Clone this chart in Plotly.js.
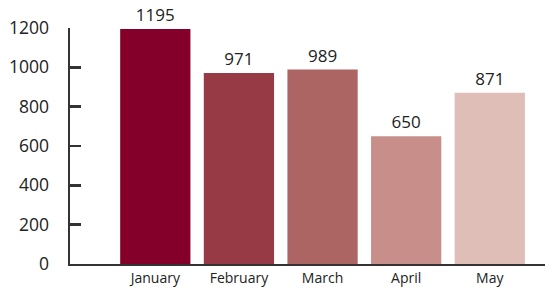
<!DOCTYPE html>
<html><head><meta charset="utf-8">
<script src="https://cdn.plot.ly/plotly-3.0.1.min.js"></script>
<style>html,body{margin:0;padding:0;background:#fff}</style>
</head><body><div id="chart" style="width:545px;height:288px"></div>
<script>
const months = ["January","February","March","April","May"];
const values = [1195, 971, 989, 650, 871];
const colors = ["#84002a","#983a45","#ad6563","#c88e8a","#dfbeb8"];
const yTicks = [0,200,400,600,800,1000,1200];

Plotly.newPlot("chart", [{
  type: "bar", x: months, y: values,
  marker: {color: colors},
  text: values.map(String), textposition: "outside",
  textfont: {family: "Open Sans, sans-serif", size: 17, color: "#222"},
  cliponaxis: false, width: 0.84
}], {
  width: 545, height: 288,
  margin: {l: 70, r: 0, t: 28, b: 24},
  paper_bgcolor: "#fff", plot_bgcolor: "#fff",
  showlegend: false,
  xaxis: {range: [-1.02, 4.66], showgrid: false, zeroline: false,
    showline: true, linecolor: "#333", linewidth: 2, ticks: "",
    ticklabelstandoff: 0,
    tickfont: {family: "Open Sans, sans-serif", size: 14, color: "#222"}},
  yaxis: {range: [0, 1200], tickvals: yTicks, showgrid: false, zeroline: false,
    showline: true, linecolor: "#333", linewidth: 2.5,
    ticks: "inside", ticklen: 11, tickwidth: 2.5, tickcolor: "#333",
    ticklabelstandoff: 15,
    tickfont: {family: "Open Sans, sans-serif", size: 17.5, color: "#222"}}
}, {staticPlot: true});
</script></body></html>
